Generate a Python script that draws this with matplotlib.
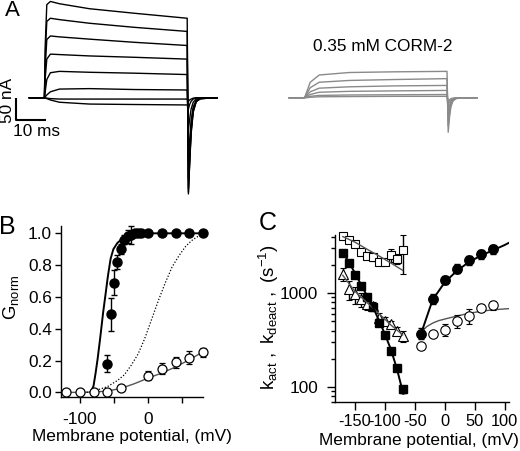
import numpy as np
import matplotlib
matplotlib.use('Agg')
import matplotlib.pyplot as plt

plt.rcParams['font.family'] = ['Liberation Sans', 'DejaVu Sans']
plt.rcParams['mathtext.fontset'] = 'custom'
plt.rcParams['mathtext.rm'] = 'Liberation Sans'
plt.rcParams['mathtext.it'] = 'Liberation Sans:italic'
plt.rcParams['axes.unicode_minus'] = False

# ---- panel A: current traces (ms, nA) ----
t_pulse = [-5, 0, 0.3, 0.8, 2, 5, 15, 30, 47.6]
t_tail = [48.0, 48.4, 48.9, 49.6, 50.6, 52, 57.6]

ctrl_pulse = [
    [0, 0, 120, 205, 212, 207, 196, 186, 175],
    [0, 0, 100, 168, 175, 172, 164, 155, 146],
    [0, 0, 70, 128, 136, 134, 129, 122, 115],
    [0, 0, 45, 85, 96, 95, 92, 89, 85],
    [0, 0, 15, 40, 55, 58, 56, 54, 51],
    [0, 0, 2, 6, 13, 19, 20, 18, 17],
    [0, 0, -1, -2, -5, -10, -14, -15, -16],
    [0, 0, 0, -1, -2, -3, -3, -3, -3],
]
ctrl_tail = [
    [-212, -150, -80, -32, -9, -2, 0],
    [-208, -145, -76, -30, -8, -2, 0],
    [-200, -140, -72, -28, -8, -2, 0],
    [-180, -125, -64, -25, -7, -2, 0],
    [-140, -95, -50, -20, -6, -1, 0],
    [-70, -48, -25, -10, -3, -1, 0],
    [-25, -15, -8, -3, -1, 0, 0],
    [-8, -5, -3, -1, 0, 0, 0],
]
corm_pulse = [
    [0, 0, 3, 12, 34, 50, 55.5, 57, 58],
    [0, 0, 2, 8, 22, 34, 38, 40, 42],
    [0, 0, 1, 5, 13, 21, 24, 26, 27],
    [0, 0, 1, 3, 7, 12, 14, 15, 16],
    [0, 0, 0, 1, 3, 5, 6, 6.5, 7],
    [0, 0, 0, 0, 1, 2, 2.5, 3, 3],
]
corm_tail = [
    [-76, -45, -20, -7, -2, 0, 0],
    [-62, -37, -16, -6, -2, 0, 0],
    [-45, -27, -12, -4, -1, 0, 0],
    [-30, -18, -8, -3, -1, 0, 0],
    [-16, -10, -4, -2, 0, 0, 0],
    [-8, -5, -2, -1, 0, 0, 0],
]

# ---- panel B: normalized conductance ----
vB_ctrl = [-60, -55, -50, -45, -40, -35, -30, -25, -20, -15, -10, 0, 20, 40, 60, 80]
gB_ctrl = [0.18, 0.49, 0.69, 0.82, 0.90, 0.96, 0.98, 0.99, 1.0, 1.0, 1.0, 1.0, 1.0, 1.0, 1.0, 1.0]
eB_ctrl = [0.055, 0.105, 0.08, 0.045, 0.03, 0.03, 0.04, 0.055, 0.02, 0.01, 0.01, 0, 0, 0, 0, 0]
vB_corm = [-120, -100, -80, -60, -40, 0, 20, 40, 60, 80]
gB_corm = [0.0, 0.0, 0.0, 0.005, 0.025, 0.105, 0.148, 0.19, 0.218, 0.252]
eB_corm = [0, 0, 0, 0, 0, 0.03, 0.035, 0.035, 0.04, 0.03]
fitB_ctrl_v = [-84, -80, -77, -74, -70, -66, -62, -59, -55, -51, -45, -37, -30, -20, 80]
fitB_ctrl_g = [0.0, 0.04, 0.12, 0.21, 0.35, 0.5, 0.63, 0.73, 0.84, 0.9, 0.94, 0.97, 0.99, 1.0, 1.0]
fitB_corm_v = [-120, -100, -80, -60, -40, -20, 0, 20, 40, 60, 80]
fitB_corm_g = [0.0, 0.0, 0.002, 0.008, 0.025, 0.055, 0.09, 0.122, 0.16, 0.205, 0.255]
dotB_v = [-90, -75, -60, -45, -35, -25, -15, -5, 5, 15, 25, 35, 45, 55, 65, 80]
dotB_g = [0.0, 0.015, 0.035, 0.075, 0.11, 0.17, 0.24, 0.34, 0.46, 0.58, 0.69, 0.79, 0.86, 0.92, 0.96, 1.0]

# ---- panel C: rate constants (s^-1) ----
vC_deact = [-170, -160, -150, -140, -130, -120, -110, -100, -90, -80, -70]
k_sq_fill = [2700, 2100, 1560, 1200, 920, 710, 485, 355, 240, 160, 95]
e_sq_fill = [100, 80, 60, 50, 40, 30, 20, 15, 12, 10, 8]
k_sq_open = [4050, 3700, 3300, 2750, 2500, 2450, 2170, 2170, 2550, 2320, 2900]
e_sq_open = [150, 250, 150, 200, 200, 250, 150, 150, 400, 300, 1300]
k_tri = [1600, 1100, 975, 860, 760, 730, 550, 505, 465, 400, 350]
e_tri = [250, 250, 200, 140, 100, 80, 60, 50, 40, 40, 50]
vC_act = [-40, -20, 0, 20, 40, 60, 80]
k_circ_fill = [372, 870, 1390, 1820, 2230, 2600, 2920]
e_circ_fill = [50, 100, 150, 200, 230, 280, 300]
k_circ_open = [275, 368, 410, 505, 575, 700, 745]
e_circ_open = [0, 0, 60, 80, 110, 70, 80]

fit_sq_fill_v = [-172, -160, -150, -140, -130, -120, -110, -100, -90, -80, -69]
fit_sq_fill_k = [2850, 2150, 1650, 1250, 950, 720, 520, 370, 255, 160, 85]
fit_sq_open_v = [-170, -150, -130, -110, -90, -70]
fit_sq_open_k = [4000, 3500, 2950, 2500, 2100, 1750]
fit_tri_v = [-170, -150, -130, -110, -90, -70]
fit_tri_k = [1550, 1050, 800, 610, 460, 360]
fit_circ_fill_v = [-40, -20, 0, 20, 40, 60, 80, 100, 108]
fit_circ_fill_k = [360, 850, 1300, 1720, 2130, 2500, 2850, 3250, 3450]
fit_circ_open_v = [-40, -30, -20, -10, 0, 20, 40, 60, 80, 108]
fit_circ_open_k = [380, 440, 480, 510, 530, 570, 610, 640, 665, 685]

FS = 12.4
W, H = 520, 451

fig = plt.figure(figsize=(W / 100, H / 100), dpi=100)

# ---------------- panel A ----------------
axA = fig.add_axes([0, 1 - 200 / H, 1, 200 / H])
axA.axis('off')
px_per_nA = 22.7 / 50
axA.set_xlim(0, W / 3)
axA.set_ylim(-(200 - 97.7) / px_per_nA, 97.7 / px_per_nA)

t_all = np.array(t_pulse + t_tail)
for p, tl in zip(ctrl_pulse, ctrl_tail):
    axA.plot(t_all + 14.8, p + tl, color='k', lw=1.0)
for p, tl in zip(corm_pulse, corm_tail):
    axA.plot(t_all + 101.4, p + tl, color='#8a8a8a', lw=1.0)

axA.plot([5.33, 5.33, 15.33], [0, -50, -50], color='k', lw=1.5, solid_capstyle='butt')
axA.text(2.4, -5, '50 nA', rotation=90, ha='center', va='center', fontsize=FS)
axA.text(12.3, -75, '10 ms', ha='center', va='center', fontsize=FS)
axA.text(127.7, 112, '0.35 mM CORM-2', ha='center', va='center', fontsize=FS)

fig.text(12.5 / W, 1 - 10.7 / H, 'A', ha='center', va='center', fontsize=16)
fig.text(7 / W, 1 - 227 / H, 'B', ha='center', va='center', fontsize=18)
fig.text(267.5 / W, 1 - 222.5 / H, 'C', ha='center', va='center', fontsize=18)

# ---------------- panel B ----------------
axB = fig.add_axes([61 / W, 1 - 397.3 / H, (203 - 61) / W, (397.3 - 226) / H])
axB.plot(fitB_corm_v, fitB_corm_g, color='#555555', lw=1.0, zorder=2)
axB.plot(dotB_v, dotB_g, color='k', ls=(0, (1, 1.5)), lw=0.9, zorder=2)
axB.plot(fitB_ctrl_v, fitB_ctrl_g, color='k', lw=1.4, zorder=2)
axB.errorbar(vB_ctrl, gB_ctrl, yerr=eB_ctrl, fmt='o', color='k', mfc='k', mec='k',
             ms=6.5, capsize=2.5, elinewidth=1, capthick=1, clip_on=False, zorder=3)
axB.errorbar(vB_corm, gB_corm, yerr=eB_corm, fmt='o', color='k', mfc='white', mec='k',
             mew=0.9, ms=6.5, capsize=2.5, elinewidth=1, capthick=1, clip_on=False, zorder=3)
axB.set_xlim(-127.5, 80)
axB.set_ylim(-0.031, 1.046)
axB.set_xticks([-100, -50, 0, 50])
axB.set_xticklabels(['-100', '', '0', ''])
axB.set_yticks([0, 0.2, 0.4, 0.6, 0.8, 1.0])
axB.set_yticklabels(['0.0', '0.2', '0.4', '0.6', '0.8', '1.0'])
axB.tick_params(direction='out', length=4.5, width=1, labelsize=FS)
axB.tick_params(axis='y', pad=2)
axB.tick_params(axis='x', pad=6)
for s in ['top', 'right']:
    axB.spines[s].set_visible(False)
for s in ['left', 'bottom']:
    axB.spines[s].set_linewidth(1)
fig.text(132 / W, 1 - 437 / H, 'Membrane potential, (mV)', ha='center', va='center', fontsize=FS)
fig.text(11 / W, 1 - 297 / H, r'$\mathregular{G_{norm}}$', rotation=90, ha='center', va='center',
         fontsize=FS + 1)

# ---------------- panel C ----------------
axC = fig.add_axes([335 / W, 1 - 401.7 / H, (509.3 - 335) / W, (401.7 - 235) / H])
axC.set_yscale('log')
axC.plot(fit_sq_open_v, fit_sq_open_k, color='#555555', lw=1.0, zorder=4)
axC.plot(fit_tri_v, fit_tri_k, color='#555555', lw=1.0, zorder=4)
axC.plot(fit_circ_open_v, fit_circ_open_k, color='#555555', lw=1.0, zorder=2)
axC.plot(fit_sq_fill_v, fit_sq_fill_k, color='k', lw=1.4, zorder=4)
axC.plot(fit_circ_fill_v, fit_circ_fill_k, color='k', lw=1.4, zorder=2)
eb = dict(color='k', capsize=2.2, elinewidth=1, capthick=1, clip_on=False, zorder=3)
axC.errorbar(vC_deact, k_sq_open, yerr=e_sq_open, fmt='s', mfc='white', mec='k', mew=0.8, ms=5.5, **eb)
axC.errorbar(vC_deact, k_tri, yerr=e_tri, fmt='^', mfc='white', mec='k', mew=0.8, ms=6.5, **eb)
axC.errorbar(vC_deact, k_sq_fill, yerr=e_sq_fill, fmt='s', mfc='k', mec='k', ms=5.5, **eb)
axC.errorbar(vC_act, k_circ_open, yerr=e_circ_open, fmt='o', mfc='white', mec='k', mew=0.8, ms=6.8, **eb)
axC.errorbar(vC_act, k_circ_fill, yerr=e_circ_fill, fmt='o', mfc='k', mec='k', ms=6.8, **eb)
axC.set_xlim(-183, 108)
axC.set_ylim(71, 4160)
axC.set_xticks([-150, -100, -50, 0, 50, 100])
axC.set_xticklabels(['-150', '-100', '-50', '0', '50', '100'])
axC.set_yticks([100, 1000])
axC.set_yticklabels(['100', '1000'])
axC.set_yticks([70, 80, 90, 200, 300, 400, 500, 600, 700, 800, 900, 2000, 3000, 4000], minor=True)
axC.set_yticklabels([], minor=True)
axC.tick_params(direction='out', length=6, width=1, labelsize=FS)
axC.tick_params(axis='x', labelsize=11.8, pad=3)
axC.tick_params(axis='y', which='minor', length=3, width=1)
axC.tick_params(axis='y', pad=6)
for s in ['top', 'right']:
    axC.spines[s].set_visible(False)
for s in ['left', 'bottom']:
    axC.spines[s].set_linewidth(1)
fig.text(419 / W, 1 - 440 / H, 'Membrane potential, (mV)', ha='center', va='center', fontsize=FS)
fig.text(269 / W, 1 - 317.5 / H, r'$\mathregular{k_{act}\ ,\ k_{deact}\ ,\ (s^{-1})}$', rotation=90,
         ha='center', va='center', fontsize=13.5)

fig.savefig('out.png', dpi=100)
